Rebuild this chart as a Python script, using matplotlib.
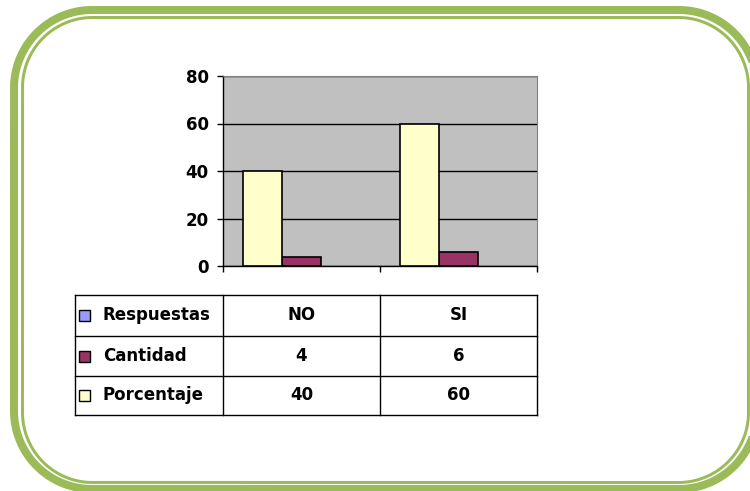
import numpy as np
import matplotlib.pyplot as plt
from matplotlib.patches import Rectangle

# data
categorias = ['NO', 'SI']
series = ['Respuestas', 'Cantidad', 'Porcentaje']
cantidad = [4, 6]
porcentaje = [40, 60]
valores = {'Respuestas': None, 'Cantidad': cantidad, 'Porcentaje': porcentaje}
colores = {'Respuestas': '#9999FF', 'Cantidad': '#993366', 'Porcentaje': '#FFFFCC'}
yticks = [0, 20, 40, 60, 80]

verde = '#9BBB59'
W, H = 750, 491
px = 0.72  # points per pixel at dpi 100


def rounded_rect(x0, y0, x1, y1, r):
    # closed outline of a rounded rectangle, in pixel coords (y down)
    t = np.linspace(0, np.pi / 2, 40)
    xs, ys = [], []
    corners = [(x1 - r, y0 + r, -np.pi / 2), (x1 - r, y1 - r, 0),
               (x0 + r, y1 - r, np.pi / 2), (x0 + r, y0 + r, np.pi)]
    for cx, cy, a in corners:
        xs.extend(cx + r * np.cos(a + t))
        ys.extend(cy + r * np.sin(a + t))
    xs.append(xs[0])
    ys.append(ys[0])
    return xs, ys


fig = plt.figure(figsize=(W / 100, H / 100), dpi=100)
fig.patch.set_facecolor('white')

# background layer in pixel coords for frame and table
bg = fig.add_axes([0, 0, 1, 1])
bg.set_xlim(0, W)
bg.set_ylim(H, 0)
bg.axis('off')

fx, fy = rounded_rect(14, 10, 757, 489, 78)
bg.plot(fx, fy, color=verde, lw=8 * px, clip_on=False, solid_joinstyle='round')
fx, fy = rounded_rect(22.5, 17.5, 748.5, 482.5, 70)
bg.plot(fx, fy, color=verde, lw=3 * px, clip_on=False)

# chart
left, right, top, bottom = 223, 537, 76, 266
ax = fig.add_axes([left / W, (H - bottom) / H, (right - left) / W, (bottom - top) / H])
ax.set_facecolor('#C0C0C0')
ax.set_xlim(-0.5, len(categorias) - 0.5)
ax.set_ylim(0, 80)

ancho = 0.25
x = np.arange(len(categorias))
for i, s in enumerate(series):
    v = valores[s]
    if v is None:
        continue
    slot = len(series) - 1 - i
    ax.bar(x + (slot - 1) * ancho, v, width=ancho, color=colores[s],
           edgecolor='black', linewidth=1.2, zorder=3)

ax.set_yticks(yticks)
ax.set_yticklabels([str(t) for t in yticks], fontsize=12, fontweight='bold')
ax.yaxis.grid(True, color='black', linewidth=1)
ax.set_axisbelow(True)
ax.set_xticks(np.arange(len(categorias) + 1) - 0.5)
ax.set_xticklabels([])
ax.tick_params(axis='y', length=4.3, width=1, pad=6)
ax.tick_params(axis='x', length=4.3, width=1)
for sp in ['top', 'right']:
    ax.spines[sp].set_color('#808080')
for sp in ['left', 'bottom']:
    ax.spines[sp].set_color('black')
    ax.spines[sp].set_linewidth(1)

# data table under the chart
cols = [75, 223, 380, 537]
rows = [295, 336, 376, 415]
for yy in rows:
    bg.plot([cols[0], cols[-1]], [yy, yy], color='black', lw=1)
for xx in cols:
    bg.plot([xx, xx], [rows[0], rows[-1]], color='black', lw=1)

filas = {'Respuestas': categorias,
         'Cantidad': [str(v) for v in cantidad],
         'Porcentaje': [str(v) for v in porcentaje]}
for r, s in enumerate(series):
    yc = (rows[r] + rows[r + 1]) / 2
    bg.add_patch(Rectangle((79, yc - 5.5), 11, 11, fc=colores[s], ec='black', lw=1))
    bg.text(103, yc, s, fontsize=12, fontweight='bold', va='center', ha='left')
    for c, txt in enumerate(filas[s]):
        bg.text((cols[c + 1] + cols[c + 2]) / 2, yc, txt, fontsize=12,
                fontweight='bold', va='center', ha='center')

fig.savefig('out.png', dpi=100)
